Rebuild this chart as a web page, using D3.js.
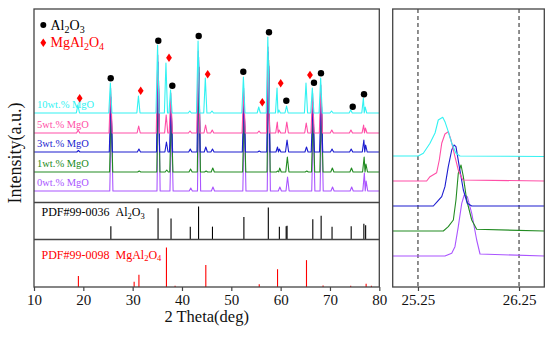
<!DOCTYPE html>
<html><head><meta charset="utf-8">
<script src="https://cdn.jsdelivr.net/npm/d3@7"></script>
<style>
body{margin:0;background:#fff}
svg{display:block}
text{font-family:"Liberation Serif","DejaVu Serif",serif}
</style>
</head><body>
<svg id="c" width="550" height="338"></svg>
<script>
// ---------------- DATA ----------------
const seriesNames = ["0wt.% MgO", "1wt.% MgO", "3wt.% MgO", "5wt.% MgO", "10wt.% MgO"];
const seriesOffsets = [11.5, 30.5, 50.5, 69.5, 89.5];
const seriesShifts = [0.10, 0.06, 0.00, -0.05, -0.10];

const al2o3Peaks = [25.58, 35.15, 37.78, 41.68, 43.36, 46.18, 52.55, 57.5, 59.74, 61.3, 66.52, 68.21, 70.42, 74.3, 76.87, 77.23];
const al2o3Heights0 = [75, 110, 70, 3, 118, 4, 75, 125, 4, 14, 70, 78, 4, 4, 18, 10];
const al2o3Heights1 = [65, 100, 60, 3, 105, 4, 65, 112, 4, 15, 60, 68, 4, 4, 15, 8];
const al2o3Heights3 = [55, 90, 50, 3, 95, 3, 55, 100, 3, 12, 50, 58, 3, 3, 12, 7];
const al2o3Heights5 = [45, 78, 40, 2, 82, 3, 45, 86, 3, 11, 40, 48, 3, 3, 8, 5];
const al2o3Heights10 = [30, 68, 23, 2, 72, 2, 36, 76, 3, 7, 25, 35, 2, 3, 15, 6];

const spinelPeaks = [19.0, 31.27, 36.85, 44.83, 55.66, 59.37, 65.24];
const spinelHeights0 = [0, 0, 0, 0, 0, 0, 0];
const spinelHeights1 = [0, 1, 2, 1, 0, 1, 1];
const spinelHeights3 = [1.5, 3, 10, 5, 1, 5, 5];
const spinelHeights5 = [3, 7, 18, 8, 2, 11, 10];
const spinelHeights10 = [8, 17, 50, 35, 6, 25, 30];

const al2o3MarkerPos = [25.55, 35.2, 38.04, 43.39, 52.43, 57.64, 61.15, 66.76, 68.18, 74.61, 76.9];
const al2o3MarkerY = [124.2, 161.8, 116.8, 166.5, 130.8, 170.2, 101.8, 119.8, 129.2, 95.8, 108.2];
const spinelMarkerPos = [19.26, 31.63, 37.37, 45.21, 56.28, 60.01, 65.95];
const spinelMarkerY = [104.2, 111.8, 144.8, 128.3, 100.2, 119.2, 127.5];

const pdfAl2o3Pos = [25.58, 35.15, 37.78, 41.68, 43.36, 46.18, 52.55, 57.5, 59.74, 61.12, 61.3, 66.52, 68.21, 70.42, 74.3, 76.87, 77.23];
const pdfAl2o3Int = [40, 95, 64, 39, 100, 39, 68, 97, 39, 40, 42, 61, 72, 39, 40, 48, 43];
const pdfSpinelPos = [19.0, 30.3, 31.27, 36.85, 38.6, 44.83, 55.66, 59.37, 65.24, 68.6, 74.2, 77.33, 78.4];
const pdfSpinelInt = [28, 13, 31, 100, 3, 56, 7, 45, 68, 4, 3, 8, 3];

const mainTicks = [10, 20, 30, 40, 50, 60, 70, 80];
const zoomTicks = [25.25, 26.25];

// zoomed (012)-region profiles: [2theta, intensity]
const zoom0 = [[25.00,31],[25.517,31],[25.584,33.7],[25.616,40.3],[25.649,60.3],[25.683,83.7],[25.708,92],[25.738,90.3],[25.782,73.7],[25.831,47],[25.864,33],[26.50,31]];
const zoom1 = [[25.00,56],[25.501,56],[25.550,60.3],[25.600,67],[25.626,87],[25.649,113.7],[25.676,122],[25.699,110.3],[25.732,87],[25.782,67],[25.831,57.7],[26.50,56]];
const zoom3 = [[25.00,81],[25.402,81],[25.441,85.3],[25.485,90.3],[25.517,100.3],[25.550,120.3],[25.584,137],[25.607,142],[25.626,140.3],[25.659,120.3],[25.699,97],[25.738,83.7],[25.782,81],[26.50,81]];
const zoom5 = [[25.00,106],[25.336,106],[25.369,110.3],[25.435,114.3],[25.461,127],[25.485,143.7],[25.517,153],[25.550,155.3],[25.577,147],[25.616,130.3],[25.649,117],[25.693,107],[26.50,106]];
const zoom10 = [[25.00,131],[25.253,131],[25.303,133.7],[25.369,143.7],[25.419,154],[25.451,167],[25.495,169.7],[25.517,165.3],[25.550,155.3],[25.584,143.7],[25.626,133.7],[25.666,131],[26.50,130.5]];

// ---------------- DRAW ----------------
const colors = ["#aa55ff", "#228b22", "#1c1cd0", "#ff4fa7", "#33f2f2"];
const alH = [al2o3Heights0, al2o3Heights1, al2o3Heights3, al2o3Heights5, al2o3Heights10];
const spH = [spinelHeights0, spinelHeights1, spinelHeights3, spinelHeights5, spinelHeights10];
const zoomData = [zoom0, zoom1, zoom3, zoom5, zoom10];

const svg = d3.select("#c");
const L = {x0: 34, x1: 379.3, top: 9, div1: 202.5, div2: 239.5, bottom: 287};
const R = {x0: 392.7, x1: 544.3};
const frameColor = "#444";

const x = d3.scaleLinear().domain([10, 80]).range([L.x0, L.x1]);
const yTop = d3.scaleLinear().domain([0, 193.5]).range([L.div1, L.top]);
const yPdf1 = d3.scaleLinear().domain([0, 100]).range([L.div2, L.div2 - 33]);
const yPdf2 = d3.scaleLinear().domain([0, 100]).range([L.bottom, L.bottom - 39.5]);
const xz = d3.scaleLinear().domain([25.0, 26.5]).range([R.x0, R.x1]);
const yz = d3.scaleLinear().domain([0, 278]).range([L.bottom, L.top]);

svg.append("clipPath").attr("id", "clipL").append("rect")
  .attr("x", L.x0).attr("y", L.top).attr("width", L.x1 - L.x0).attr("height", L.div1 - L.top);
svg.append("clipPath").attr("id", "clipR").append("rect")
  .attr("x", R.x0).attr("y", L.top).attr("width", R.x1 - R.x0).attr("height", L.bottom - L.top);

// main patterns
const hw = 0.32;
const lineMain = d3.line().x(d => x(d[0])).y(d => yTop(d[1]));
const gMain = svg.append("g").attr("clip-path", "url(#clipL)");
seriesNames.forEach((name, i) => {
  const base = seriesOffsets[i];
  let peaks = al2o3Peaks.map((p, k) => ({p: p + seriesShifts[i], h: alH[i][k]}))
    .concat(spinelPeaks.map((p, k) => ({p: p + seriesShifts[i], h: spH[i][k]})))
    .filter(d => d.h > 0).sort((a, b) => a.p - b.p);
  const pts = [[10, base]];
  peaks.forEach((pk, k) => {
    const prev = k > 0 ? peaks[k - 1].p : 10;
    const next = k < peaks.length - 1 ? peaks[k + 1].p : 80;
    const lf = Math.max(pk.p - hw, (prev + pk.p) / 2);
    const rf = Math.min(pk.p + hw, (next + pk.p) / 2);
    pts.push([lf, base], [pk.p, base + pk.h], [rf, base]);
  });
  pts.push([80, base]);
  gMain.append("path").attr("d", lineMain(pts)).attr("fill", "none")
    .attr("stroke", colors[i]).attr("stroke-width", 1.1).attr("stroke-linejoin", "round");
});

// series labels
seriesNames.forEach((name, i) => {
  svg.append("text").attr("x", 37).attr("y", yTop(seriesOffsets[i]) - 5)
    .attr("font-size", 10.5).attr("fill", colors[i]).text(name);
});

// markers
al2o3MarkerPos.forEach((p, k) => {
  svg.append("circle").attr("cx", x(p)).attr("cy", yTop(al2o3MarkerY[k])).attr("r", 3.2).attr("fill", "#000");
});
const diamond = "M0,-4.2L2.9,0L0,4.2L-2.9,0Z";
spinelMarkerPos.forEach((p, k) => {
  svg.append("path").attr("d", diamond)
    .attr("transform", `translate(${x(p)},${yTop(spinelMarkerY[k])})`).attr("fill", "#ff0000");
});

// legend
svg.append("circle").attr("cx", 43.3).attr("cy", 25).attr("r", 3).attr("fill", "#000");
const lg1 = svg.append("text").attr("x", 50.5).attr("y", 29.5).attr("font-size", 14).attr("fill", "#000");
lg1.append("tspan").text("Al");
lg1.append("tspan").attr("font-size", 10).attr("dy", 3).text("2");
lg1.append("tspan").attr("dy", -3).text("O");
lg1.append("tspan").attr("font-size", 10).attr("dy", 3).text("3");
svg.append("path").attr("d", diamond).attr("transform", "translate(43.3,42.7)").attr("fill", "#ff0000");
const lg2 = svg.append("text").attr("x", 50.5).attr("y", 47).attr("font-size", 14).attr("fill", "#ff0000");
lg2.append("tspan").text("MgAl");
lg2.append("tspan").attr("font-size", 10).attr("dy", 3).text("2");
lg2.append("tspan").attr("dy", -3).text("O");
lg2.append("tspan").attr("font-size", 10).attr("dy", 3).text("4");

// PDF sticks
pdfAl2o3Pos.forEach((p, k) => {
  svg.append("line").attr("x1", x(p)).attr("x2", x(p)).attr("y1", yPdf1(0)).attr("y2", yPdf1(pdfAl2o3Int[k]))
    .attr("stroke", "#000").attr("stroke-width", 1.1);
});
pdfSpinelPos.forEach((p, k) => {
  svg.append("line").attr("x1", x(p)).attr("x2", x(p)).attr("y1", yPdf2(0)).attr("y2", yPdf2(pdfSpinelInt[k]))
    .attr("stroke", "#ff0000").attr("stroke-width", 1.1);
});
const t1 = svg.append("text").attr("x", 41.5).attr("y", 216).attr("font-size", 12).attr("fill", "#000");
t1.append("tspan").text("PDF#99-0036\u00a0\u00a0Al");
t1.append("tspan").attr("font-size", 8.5).attr("dy", 2.5).text("2");
t1.append("tspan").attr("dy", -2.5).text("O");
t1.append("tspan").attr("font-size", 8.5).attr("dy", 2.5).text("3");
const t2 = svg.append("text").attr("x", 41.5).attr("y", 258.5).attr("font-size", 12).attr("fill", "#ff0000");
t2.append("tspan").text("PDF#99-0098\u00a0\u00a0MgAl");
t2.append("tspan").attr("font-size", 8.5).attr("dy", 2.5).text("2");
t2.append("tspan").attr("dy", -2.5).text("O");
t2.append("tspan").attr("font-size", 8.5).attr("dy", 2.5).text("4");

// frames
svg.append("rect").attr("x", L.x0).attr("y", L.top).attr("width", L.x1 - L.x0).attr("height", L.bottom - L.top)
  .attr("fill", "none").attr("stroke", frameColor).attr("stroke-width", 1.3);
[L.div1, L.div2].forEach(yv => svg.append("line").attr("x1", L.x0).attr("x2", L.x1).attr("y1", yv).attr("y2", yv)
  .attr("stroke", frameColor).attr("stroke-width", 1.3));

// bottom axis (left)
const axL = svg.append("g").attr("transform", `translate(0,${L.bottom})`)
  .call(d3.axisBottom(x).tickValues(mainTicks).tickSize(4).tickPadding(3).tickFormat(d3.format("d")));
axL.select(".domain").remove();
axL.selectAll("line").attr("stroke", frameColor).attr("stroke-width", 1.2);
axL.selectAll("text").attr("font-size", 15).attr("font-family", "Liberation Serif").attr("fill", "#111");

// zoom panel
svg.append("g").attr("clip-path", "url(#clipR)").selectAll("line.dash").data(zoomTicks).join("line")
  .attr("x1", d => xz(d)).attr("x2", d => xz(d)).attr("y1", L.top).attr("y2", L.bottom)
  .attr("stroke", "#333").attr("stroke-width", 1.1).attr("stroke-dasharray", "4,3");
const lineZ = d3.line().x(d => xz(d[0])).y(d => yz(d[1]));
const gZ = svg.append("g").attr("clip-path", "url(#clipR)");
zoomData.forEach((arr, i) => {
  gZ.append("path").attr("d", lineZ(arr)).attr("fill", "none").attr("stroke", colors[i])
    .attr("stroke-width", 1.1).attr("stroke-linejoin", "round");
});
svg.append("rect").attr("x", R.x0).attr("y", L.top).attr("width", R.x1 - R.x0).attr("height", L.bottom - L.top)
  .attr("fill", "none").attr("stroke", frameColor).attr("stroke-width", 1.3);
const axR = svg.append("g").attr("transform", `translate(0,${L.bottom})`)
  .call(d3.axisBottom(xz).tickValues(zoomTicks).tickSize(4).tickPadding(3).tickFormat(d3.format(".2f")));
axR.select(".domain").remove();
axR.selectAll("line").attr("stroke", frameColor).attr("stroke-width", 1.2);
axR.selectAll("text").attr("font-size", 15).attr("font-family", "Liberation Serif").attr("fill", "#111");

// axis titles
svg.append("text").attr("x", (L.x0 + L.x1) / 2).attr("y", 322).attr("text-anchor", "middle")
  .attr("font-size", 16.5).attr("fill", "#111").text("2 Theta(deg)");
svg.append("text").attr("transform", "translate(21,153) rotate(-90)").attr("text-anchor", "middle")
  .attr("font-size", 18).attr("fill", "#111").text("Intensity(a.u.)");
</script>
</body></html>
